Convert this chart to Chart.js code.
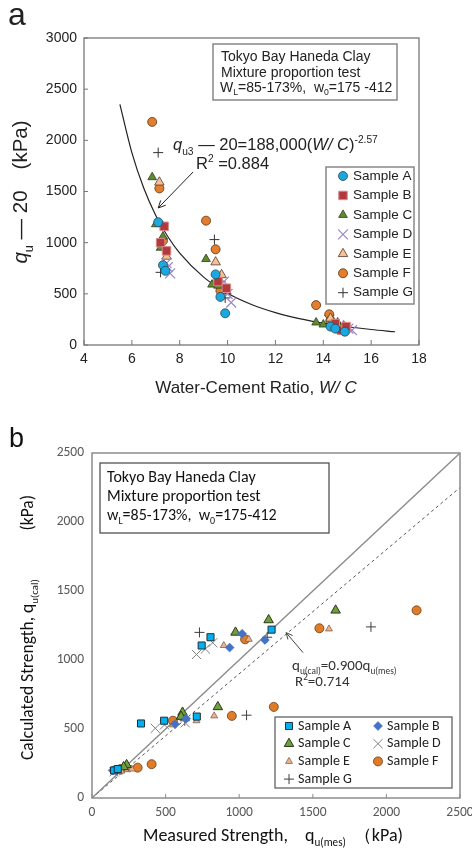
<!DOCTYPE html>
<html>
<head>
<meta charset="utf-8">
<script src="https://cdn.jsdelivr.net/npm/chart.js@4.4.1/dist/chart.umd.min.js"></script>
<style>
  body { margin: 0; background: #fff; }
  .panel { position: absolute; left: 0; }
</style>
</head>
<body>
<div class="panel" style="top:0;width:472px;height:420px"><canvas id="chartA" width="472" height="420"></canvas></div>
<div class="panel" style="top:420px;width:472px;height:430px"><canvas id="chartB" width="472" height="430"></canvas></div>
<script>
// --- panel a: strength vs water-cement ratio ---
const SAMPLE_LABELS = ['Sample A', 'Sample B', 'Sample C', 'Sample D', 'Sample E', 'Sample F', 'Sample G'];

const aSampleA = [[7.1, 1200], [7.3, 780], [7.4, 725], [9.5, 690], [9.7, 470], [9.9, 310], [14.3, 180], [14.5, 160], [14.9, 130]];
const aSampleB = [[7.35, 1160], [7.2, 1000], [7.45, 920], [9.6, 620], [9.95, 555], [14.5, 210], [14.75, 145], [14.95, 180]];
const aSampleC = [[6.85, 1640], [7.0, 1180], [7.2, 950], [7.3, 1060], [9.1, 840], [9.35, 590], [9.6, 580], [13.7, 220], [14.0, 200], [14.35, 185], [14.6, 210]];
const aSampleD = [[7.45, 800], [7.5, 760], [7.6, 700], [9.85, 620], [10.0, 500], [10.15, 415], [15.05, 160], [15.2, 145]];
const aSampleE = [[7.15, 1590], [7.45, 865], [9.5, 810], [9.75, 685], [9.95, 530], [14.3, 260], [14.6, 215], [14.85, 185]];
const aSampleF = [[6.85, 2180], [7.15, 1530], [7.3, 1020], [9.1, 1215], [9.5, 935], [9.7, 530], [13.7, 390], [14.25, 300], [14.3, 240], [14.6, 180]];
const aSampleG = [[7.1, 1880], [7.2, 710], [7.3, 1160], [9.45, 1030], [9.7, 620], [9.9, 460], [14.25, 290], [14.55, 180]];

// fitted curve q - 20 = 188,000 (W/C)^-2.57
const FIT_COEF = 188000;
const FIT_EXP = -2.57;
const CURVE_WC = [5.5, 6, 6.5, 7, 7.5, 8, 9, 10, 11, 12, 13, 14, 15, 16, 17];

// --- panel b: calculated vs measured strength ---
const bSampleA = [[333, 540], [490, 560], [712, 590], [745, 1105], [805, 1165], [1220, 1220], [150, 200], [175, 210]];
const bSampleB = [[935, 1090], [1020, 1190], [1175, 1145], [565, 535], [640, 575], [140, 200], [160, 205]];
const bSampleC = [[615, 620], [605, 590], [855, 660], [975, 1200], [1200, 1290], [1655, 1360], [235, 240], [215, 225]];
const bSampleD = [[430, 505], [493, 530], [633, 545], [710, 1040], [770, 1080], [820, 1125], [150, 190], [175, 200]];
const bSampleE = [[550, 530], [710, 560], [830, 595], [895, 1105], [1065, 1150], [1610, 1225], [200, 195], [240, 205], [270, 210]];
const bSampleF = [[195, 210], [310, 220], [405, 245], [550, 560], [950, 595], [1235, 660], [1040, 1150], [1545, 1230], [2205, 1360]];
const bSampleG = [[190, 205], [630, 560], [1050, 600], [730, 1200], [1190, 1165], [1895, 1240]];

const FIT_SLOPE = 0.900;
const LINE_SPAN = [0, 2500];

// marker styles
const stylesA = [
  { style: 'circle',   r: 4.5, fill: '#1ba8de', stroke: '#2b4654', lw: 0.8 },
  { style: 'rect',     r: 6,   fill: '#b33a3c', stroke: '#d88a8a', lw: 1 },
  { style: 'triangle', r: 5,   fill: '#5f8a2f', stroke: '#2e3c1a', lw: 0.8 },
  { style: 'crossRot', r: 7,   fill: '#9a84c6', stroke: '#9a84c6', lw: 1.2 },
  { style: 'triangle', r: 5.5, fill: '#f8bf93', stroke: '#4c3b30', lw: 0.8 },
  { style: 'circle',   r: 4.5, fill: '#e37e2e', stroke: '#5a3410', lw: 0.8 },
  { style: 'cross',    r: 5,   fill: '#333',    stroke: '#333',    lw: 1 }
];
const stylesB = [
  { style: 'rect',     r: 5,   fill: '#00b0f0', stroke: '#1d2f38', lw: 1 },
  { style: 'rectRot',  r: 4.5, fill: '#4472c4', stroke: '#4472c4', lw: 0.5 },
  { style: 'triangle', r: 5.5, fill: '#6e9e3e', stroke: '#2a3a18', lw: 1 },
  { style: 'crossRot', r: 6.5, fill: '#7f7f7f', stroke: '#7f7f7f', lw: 1 },
  { style: 'triangle', r: 4,   fill: '#f4b183', stroke: '#7f6050', lw: 0.8 },
  { style: 'circle',   r: 4.5, fill: '#e07b28', stroke: '#6b3a12', lw: 0.8 },
  { style: 'cross',    r: 5,   fill: '#404040', stroke: '#404040', lw: 1 }
];

function toPoints(pairs) {
  return pairs.map(p => ({ x: p[0], y: p[1] }));
}

function pointDataset(label, pairs, st) {
  return {
    label: label,
    data: toPoints(pairs),
    pointStyle: st.style,
    pointRadius: st.r,
    pointHoverRadius: st.r,
    pointBackgroundColor: st.fill,
    pointBorderColor: st.stroke,
    pointBorderWidth: st.lw,
    showLine: false,
    order: 1
  };
}

// text with italic / sub / sup runs
function drawRuns(ctx, runs, x, y, size, family, align) {
  const fontOf = r => (r.i ? 'italic ' : '') + ((r.sub || r.sup) ? size * 0.62 : size) + 'px ' + family;
  let w = 0;
  runs.forEach(r => { ctx.font = fontOf(r); w += ctx.measureText(r.t).width; });
  let cx = align === 'center' ? x - w / 2 : align === 'right' ? x - w : x;
  ctx.textAlign = 'left';
  ctx.textBaseline = 'alphabetic';
  runs.forEach(r => {
    ctx.font = fontOf(r);
    const dy = r.sub ? size * 0.28 : r.sup ? -size * 0.42 : 0;
    ctx.fillText(r.t, cx, y + dy);
    cx += ctx.measureText(r.t).width;
  });
  return w;
}

function drawMarker(ctx, st, x, y) {
  const r = st.r;
  ctx.save();
  ctx.fillStyle = st.fill;
  ctx.strokeStyle = st.stroke;
  ctx.lineWidth = st.lw;
  ctx.beginPath();
  if (st.style === 'circle') {
    ctx.arc(x, y, r, 0, Math.PI * 2);
  } else if (st.style === 'rect') {
    const s = r * Math.SQRT1_2;
    ctx.rect(x - s, y - s, 2 * s, 2 * s);
  } else if (st.style === 'rectRot') {
    ctx.moveTo(x - r, y); ctx.lineTo(x, y - r); ctx.lineTo(x + r, y); ctx.lineTo(x, y + r); ctx.closePath();
  } else if (st.style === 'triangle') {
    for (let k = 0; k < 3; k++) {
      const a = k * 2 * Math.PI / 3;
      const px = x + Math.sin(a) * r, py = y - Math.cos(a) * r;
      if (k) ctx.lineTo(px, py); else ctx.moveTo(px, py);
    }
    ctx.closePath();
  } else if (st.style === 'cross') {
    ctx.moveTo(x, y - r); ctx.lineTo(x, y + r); ctx.moveTo(x - r, y); ctx.lineTo(x + r, y);
  } else if (st.style === 'crossRot') {
    const o = r * Math.SQRT1_2;
    ctx.moveTo(x - o, y - o); ctx.lineTo(x + o, y + o); ctx.moveTo(x - o, y + o); ctx.lineTo(x + o, y - o);
  }
  if (st.style !== 'cross' && st.style !== 'crossRot') ctx.fill();
  ctx.stroke();
  ctx.restore();
}

function drawArrow(ctx, x1, y1, x2, y2, head) {
  const ang = Math.atan2(y2 - y1, x2 - x1);
  ctx.beginPath();
  ctx.moveTo(x1, y1);
  ctx.lineTo(x2, y2);
  ctx.moveTo(x2 - head * Math.cos(ang - 0.45), y2 - head * Math.sin(ang - 0.45));
  ctx.lineTo(x2, y2);
  ctx.lineTo(x2 - head * Math.cos(ang + 0.45), y2 - head * Math.sin(ang + 0.45));
  ctx.stroke();
}

const FONT_A = '"Liberation Sans", Arial, sans-serif';
const FONT_B = 'Carlito, Lato, "Open Sans", sans-serif';

// frame, inward ticks, notes, legend and axis titles for panel a
const decorA = {
  id: 'decorA',
  afterDraw(chart) {
    const ctx = chart.ctx, a = chart.chartArea;
    const sx = chart.scales.x, sy = chart.scales.y;
    ctx.save();
    ctx.strokeStyle = '#777';
    ctx.lineWidth = 1.3;
    ctx.strokeRect(a.left, a.top, a.right - a.left, a.bottom - a.top);
    ctx.lineWidth = 1;
    ctx.beginPath();
    sx.ticks.forEach(t => {
      const px = sx.getPixelForValue(t.value);
      ctx.moveTo(px, a.bottom); ctx.lineTo(px, a.bottom - 5);
    });
    sy.ticks.forEach(t => {
      const py = sy.getPixelForValue(t.value);
      ctx.moveTo(a.left, py); ctx.lineTo(a.left + 4, py);
    });
    ctx.stroke();

    ctx.fillStyle = '#222';
    // panel letter
    ctx.font = '32px ' + FONT_A;
    ctx.textAlign = 'left';
    ctx.textBaseline = 'alphabetic';
    ctx.fillText('a', 8, 25);

    // test conditions box
    ctx.strokeStyle = '#888';
    ctx.lineWidth = 1.5;
    ctx.strokeRect(213, 44, 184, 56);
    ctx.fillStyle = '#222';
    drawRuns(ctx, [{ t: 'Tokyo Bay Haneda Clay' }], 221, 61, 14, FONT_A);
    drawRuns(ctx, [{ t: 'Mixture proportion test' }], 221, 76.5, 14, FONT_A);
    drawRuns(ctx, [{ t: 'W' }, { t: 'L', sub: true }, { t: '=85-173%,  w' }, { t: '0', sub: true }, { t: '=175 -412' }], 220, 91.5, 14, FONT_A);

    // fit equation and arrow
    drawRuns(ctx, [{ t: 'q', i: true }, { t: 'u3', sub: true }, { t: ' \u2014 20=188,000(' }, { t: 'W/ C', i: true }, { t: ')' }, { t: '-2.57', sup: true }], 173, 150, 16.5, FONT_A);
    drawRuns(ctx, [{ t: 'R' }, { t: '2', sup: true }, { t: ' =0.884' }], 196, 169, 16.5, FONT_A);
    ctx.strokeStyle = '#222';
    ctx.lineWidth = 1;
    drawArrow(ctx, sx.getPixelForValue(8.56), sy.getPixelForValue(1691), sx.getPixelForValue(7.1), sy.getPixelForValue(1339), 8);

    // legend
    ctx.strokeStyle = '#888';
    ctx.lineWidth = 1.5;
    ctx.strokeRect(326, 167, 88, 137);
    SAMPLE_LABELS.forEach((lab, i) => {
      const y = 176 + i * 19.45;
      drawMarker(ctx, stylesA[i], 343, y);
      ctx.fillStyle = '#222';
      ctx.font = '13.5px ' + FONT_A;
      ctx.textBaseline = 'middle';
      ctx.fillText(lab, 353, y);
    });

    // axis titles
    ctx.fillStyle = '#222';
    drawRuns(ctx, [{ t: 'Water-Cement Ratio, ' }, { t: 'W/ C', i: true }], 256, 393, 17, FONT_A, 'center');
    ctx.save();
    ctx.translate(27, 0);
    ctx.rotate(-Math.PI / 2);
    drawRuns(ctx, [{ t: 'q', i: true }, { t: 'u', sub: true }, { t: ' \u2014 20\u3000(kPa)' }], -192, 0, 20.5, FONT_A, 'center');
    ctx.restore();
    ctx.restore();
  }
};

// frame, ticks, notes, legend and axis titles for panel b
const decorB = {
  id: 'decorB',
  afterDraw(chart) {
    const ctx = chart.ctx, a = chart.chartArea;
    const sx = chart.scales.x, sy = chart.scales.y;
    ctx.save();
    ctx.strokeStyle = '#8c8c8c';
    ctx.lineWidth = 1.5;
    ctx.strokeRect(a.left, a.top, a.right - a.left, a.bottom - a.top);
    ctx.lineWidth = 1;
    ctx.beginPath();
    sx.ticks.forEach(t => {
      const px = sx.getPixelForValue(t.value);
      ctx.moveTo(px, a.bottom); ctx.lineTo(px, a.bottom - 4);
    });
    ctx.stroke();

    ctx.fillStyle = '#111';
    ctx.font = '27px ' + FONT_A;
    ctx.textAlign = 'left';
    ctx.textBaseline = 'alphabetic';
    ctx.fillText('b', 9, 27);

    // test conditions box
    ctx.strokeStyle = '#444';
    ctx.lineWidth = 1.2;
    ctx.strokeRect(100, 43, 229, 70);
    ctx.fillStyle = '#111';
    drawRuns(ctx, [{ t: 'Tokyo Bay Haneda Clay' }], 107, 62, 16, FONT_B);
    drawRuns(ctx, [{ t: 'Mixture proportion test' }], 107, 80.5, 16, FONT_B);
    drawRuns(ctx, [{ t: 'w' }, { t: 'L', sub: true }, { t: '=85-173%,  w' }, { t: '0', sub: true }, { t: '=175-412' }], 107, 99.5, 16, FONT_B);

    // regression note and arrow
    ctx.fillStyle = '#333';
    drawRuns(ctx, [{ t: 'q' }, { t: 'u(cal)', sub: true }, { t: '=0.900q' }, { t: 'u(mes)', sub: true }], 292, 250, 15, FONT_B);
    drawRuns(ctx, [{ t: 'R' }, { t: '2', sup: true }, { t: '=0.714' }], 295, 266, 15, FONT_B);
    ctx.strokeStyle = '#444';
    ctx.lineWidth = 1;
    drawArrow(ctx, sx.getPixelForValue(1434), sy.getPixelForValue(1053), sx.getPixelForValue(1319), sy.getPixelForValue(1198), 7);

    // legend, two columns
    ctx.strokeStyle = '#555';
    ctx.lineWidth = 1.2;
    ctx.strokeRect(275, 297, 177, 71);
    SAMPLE_LABELS.forEach((lab, i) => {
      const col = i % 2, row = Math.floor(i / 2);
      const y = 306 + row * 17.7;
      const mx = col ? 378 : 289;
      drawMarker(ctx, stylesB[i], mx, y);
      ctx.fillStyle = '#222';
      ctx.font = '14px ' + FONT_B;
      ctx.textBaseline = 'middle';
      ctx.fillText(lab, mx + 9, y);
    });

    // axis titles
    ctx.fillStyle = '#111';
    drawRuns(ctx, [{ t: 'Measured Strength,' }], 143, 421, 18, FONT_B);
    drawRuns(ctx, [{ t: 'q' }, { t: 'u(mes)', sub: true }], 305, 421, 18, FONT_B);
    drawRuns(ctx, [{ t: '\uff08kPa)' }], 403, 421, 18, FONT_B, 'right');
    ctx.save();
    ctx.translate(33, 0);
    ctx.rotate(-Math.PI / 2);
    drawRuns(ctx, [{ t: 'Calculated Strength, q' }, { t: 'u(cal)', sub: true }], -340, 0, 17.5, FONT_B);
    drawRuns(ctx, [{ t: '(kPa)' }], -75, 0, 17.5, FONT_B, 'right');
    ctx.restore();
    ctx.restore();
  }
};

function fixedAxis(size, horizontal) {
  return function (s) {
    if (horizontal) { s.height = size; s.paddingLeft = 0; s.paddingRight = 0; }
    else { s.width = size; s.paddingTop = 0; s.paddingBottom = 0; }
  };
}

// plain tick numbers, no thousands separator
const plainTick = v => String(v);

const datasetsA = [aSampleA, aSampleB, aSampleC, aSampleD, aSampleE, aSampleF, aSampleG]
  .map((d, i) => pointDataset(SAMPLE_LABELS[i], d, stylesA[i]));
datasetsA.push({
  label: 'fit',
  data: CURVE_WC.map(x => ({ x: x, y: FIT_COEF * Math.pow(x, FIT_EXP) })),
  showLine: true,
  borderColor: '#222',
  borderWidth: 1.2,
  pointRadius: 0,
  cubicInterpolationMode: 'monotone',
  order: 5
});

new Chart(document.getElementById('chartA'), {
  type: 'scatter',
  data: { datasets: datasetsA },
  options: {
    responsive: false,
    animation: false,
    layout: { padding: { top: 38, right: 53, left: 0, bottom: 0 } },
    plugins: { legend: { display: false }, tooltip: { enabled: false } },
    scales: {
      x: {
        type: 'linear', min: 4, max: 18,
        ticks: { stepSize: 2, padding: 6, color: '#222', font: { family: FONT_A, size: 14 }, callback: plainTick },
        grid: { display: false, drawTicks: false },
        border: { display: false },
        afterFit: fixedAxis(75, true)
      },
      y: {
        type: 'linear', min: 0, max: 3000,
        ticks: { stepSize: 500, padding: 7, color: '#222', font: { family: FONT_A, size: 14 }, callback: plainTick },
        grid: { display: false, drawTicks: false },
        border: { display: false },
        afterFit: fixedAxis(84, false)
      }
    }
  },
  plugins: [decorA]
});

const datasetsB = [bSampleA, bSampleB, bSampleC, bSampleD, bSampleE, bSampleF, bSampleG]
  .map((d, i) => pointDataset(SAMPLE_LABELS[i], d, stylesB[i]));
datasetsB.push({
  label: '1:1',
  data: LINE_SPAN.map(v => ({ x: v, y: v })),
  showLine: true,
  borderColor: '#8a8a8a',
  borderWidth: 1.3,
  pointRadius: 0,
  order: 5
});
datasetsB.push({
  label: 'fit',
  data: LINE_SPAN.map(v => ({ x: v, y: FIT_SLOPE * v })),
  showLine: true,
  borderColor: '#555',
  borderWidth: 1,
  borderDash: [3, 3],
  pointRadius: 0,
  order: 5
});

new Chart(document.getElementById('chartB'), {
  type: 'scatter',
  data: { datasets: datasetsB },
  options: {
    responsive: false,
    animation: false,
    layout: { padding: { top: 33, right: 12, left: 0, bottom: 0 } },
    plugins: { legend: { display: false }, tooltip: { enabled: false } },
    scales: {
      x: {
        type: 'linear', min: 0, max: 2500,
        ticks: { stepSize: 500, padding: 7, color: '#595959', font: { family: FONT_B, size: 13.5 }, callback: plainTick },
        grid: { display: false, drawTicks: false },
        border: { display: false },
        afterFit: fixedAxis(52, true)
      },
      y: {
        type: 'linear', min: 0, max: 2500,
        ticks: { stepSize: 500, padding: 8, color: '#595959', font: { family: FONT_B, size: 13.5 }, callback: plainTick },
        grid: { display: false, drawTicks: false },
        border: { display: false },
        afterFit: fixedAxis(92, false)
      }
    }
  },
  plugins: [decorB]
});
</script>
</body>
</html>
